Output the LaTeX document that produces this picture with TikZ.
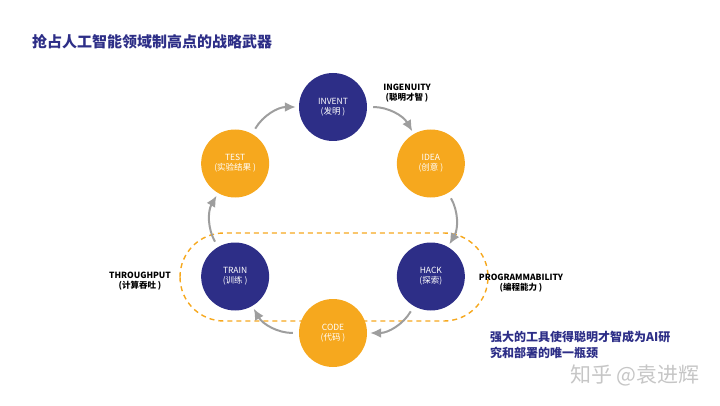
\documentclass[tikz,border=0pt]{standalone}
\usepackage{fontspec}
\setmainfont{Noto Sans CJK SC}
\usetikzlibrary{arrows.meta}
\definecolor{navy}{RGB}{45,46,135}
\definecolor{amber}{RGB}{246,168,30}
\definecolor{flowgray}{RGB}{158,158,158}
\tikzset{
	stage/.style={circle,minimum size=68pt,inner sep=0pt,text=white,align=center,font=\fontsize{8.5}{10}\selectfont},
	flow/.style={->,flowgray,line width=2pt,shorten <=6pt,shorten >=3pt},
	note/.style={align=center,font=\bfseries\fontsize{8.5}{10}\selectfont},
}
\begin{document}
\begin{tikzpicture}[x=1pt,y=1pt,>={Latex[length=11pt,width=10pt]}]
	\useasboundingbox (0,0) rectangle (720,405);
	% Radius of the cycle
	\newdimen\R
	\R=113pt
	\coordinate (center) at (333,185);
	\node[anchor=west,inner sep=0pt,text=navy,font=\bfseries\fontsize{15}{17}\selectfont] (title) at (32,363) {抢占人工智能领域制高点的战略武器};
	% dashed loop round TRAIN, CODE and HACK
	\draw[amber,line width=1.4pt,dash pattern=on 5pt off 4pt,rounded corners=44pt] (180,84) rectangle (488,172);
	\foreach \name/\ang/\col/\en/\cn in {invent/90/navy/INVENT/{发明\ },idea/30/amber/IDEA/{创意\ },hack/-30/navy/HACK/探索,code/-90/amber/CODE/{代码\ },train/210/navy/TRAIN/{训练\ },test/150/amber/TEST/{实验结果\ }}
		\node[stage,fill=\col] (\name) at ([shift={(\ang:\R)}]center) {\en\\(\cn)};
	\foreach \a/\b in {invent/idea,idea/hack,hack/code,code/train,train/test,test/invent}
		\draw[flow] (\a) to[bend left=30] (\b);
	\node[note] (ingenuity) at (407,312) {INGENUITY\\(聪明才智\ )};
	\node[note] (throughput) at (140,124) {THROUGHPUT\\(计算吞吐\ )};
	\node[note] (programmability) at (521,122) {PROGRAMMABILITY\\(编程能力\ )};
	\node[anchor=west,inner sep=0pt,align=left,text=navy,font=\bfseries\fontsize{12}{16}\selectfont] (bottleneck) at (490,60) {强大的工具使得聪明才智成为AI研\\究和部署的唯一瓶颈};
	\node[text=gray!45,font=\fontsize{21}{24}\selectfont] (mark) at (635,30) {知乎 @袁进辉};
\end{tikzpicture}
\end{document}
